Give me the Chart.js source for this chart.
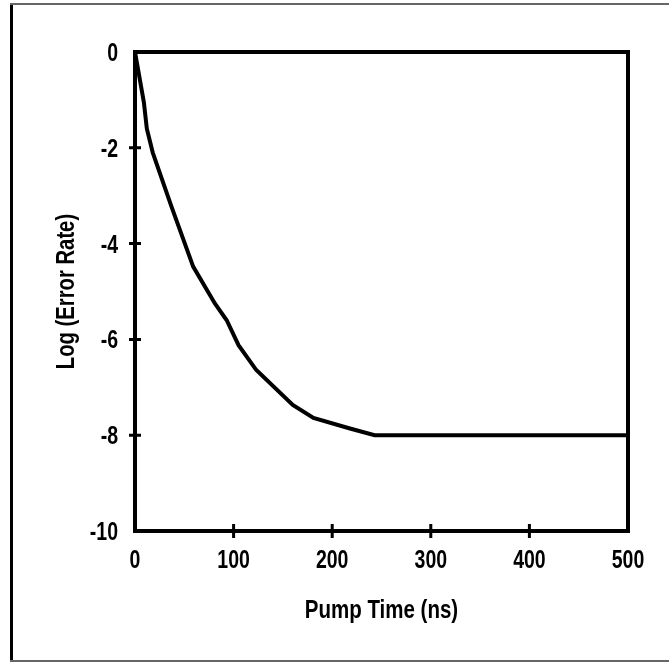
<!DOCTYPE html>
<html>
<head>
<meta charset="utf-8">
<script src="https://cdn.jsdelivr.net/npm/chart.js@4"></script>
<style>
  html, body { margin: 0; padding: 0; background: #fff; }
  #wrap { width: 669px; height: 662px; position: relative; }
</style>
</head>
<body>
<div id="wrap"><canvas id="chart" width="669" height="662"></canvas></div>
<script>
// data
const pumpTime = [0, 9, 12, 18, 37, 59, 81, 93, 105, 123, 160, 181, 218, 243, 500];
const logError = [0, -1.05, -1.6, -2.1, -3.23, -4.48, -5.25, -5.6, -6.12, -6.64, -7.37, -7.64, -7.86, -8.0, -8.0];
const xTicks = [0, 100, 200, 300, 400, 500];
const yTicks = [0, -2, -4, -6, -8, -10];
const xTitle = 'Pump Time (ns)';
const yTitle = 'Log (Error Rate)';

const FONT = "bold 25px 'Liberation Sans', Arial, sans-serif";

// condensed bold text like the original figure
function narrowText(c, txt, x, y, sx, rot) {
    c.save();
    c.translate(x, y);
    if (rot) c.rotate(rot);
    c.scale(sx, 1);
    c.fillText(txt, 0, 0);
    c.restore();
}

// box, cross ticks, labels and page frame
const framePlugin = {
    id: 'frame',
    beforeDraw(chart) {
        const c = chart.ctx;
        c.save();
        c.fillStyle = '#fff';
        c.fillRect(0, 0, chart.width, chart.height);
        c.fillStyle = '#000';
        c.fillRect(10, 3, 3, 659);
        c.fillStyle = '#666';
        c.fillRect(10, 3, 659, 2);
        c.fillRect(10, 660, 659, 2);
        c.restore();
    },
    afterDatasetsDraw(chart) {
        const c = chart.ctx;
        const a = chart.chartArea;
        const xs = chart.scales.x, ys = chart.scales.y;
        c.save();
        c.strokeStyle = '#000';
        c.lineWidth = 4;
        c.strokeRect(a.left, a.top, a.right - a.left, a.bottom - a.top);
        c.lineWidth = 3;
        c.beginPath();
        xTicks.slice(1, -1).forEach(v => {
            const px = xs.getPixelForValue(v);
            c.moveTo(px, a.bottom - 7);
            c.lineTo(px, a.bottom + 7);
        });
        yTicks.slice(1, -1).forEach(v => {
            const py = ys.getPixelForValue(v);
            c.moveTo(a.left - 6, py);
            c.lineTo(a.left + 6, py);
        });
        c.stroke();

        c.fillStyle = '#000';
        c.font = FONT;
        c.textBaseline = 'alphabetic';
        c.textAlign = 'center';
        xTicks.forEach(v => narrowText(c, String(v), xs.getPixelForValue(v), a.bottom + 37, 0.78));
        c.textAlign = 'right';
        yTicks.forEach(v => narrowText(c, String(v), a.left - 17, ys.getPixelForValue(v) + 9, 0.78));
        c.textAlign = 'center';
        narrowText(c, xTitle, (a.left + a.right) / 2, 618, 0.82);
        narrowText(c, yTitle, 74, (a.top + a.bottom) / 2, 0.81, -Math.PI / 2);
        c.restore();
    }
};

new Chart(document.getElementById('chart'), {
    type: 'line',
    data: {
        datasets: [{
            data: pumpTime.map((x, i) => ({ x: x, y: logError[i] })),
            borderColor: '#000',
            borderWidth: 4,
            pointRadius: 0,
            tension: 0,
            fill: false
        }]
    },
    options: {
        responsive: false,
        animation: false,
        layout: { padding: { left: 20, top: 52, right: 41, bottom: 20 } },
        plugins: { legend: { display: false }, tooltip: { enabled: false } },
        scales: {
            x: {
                type: 'linear',
                min: 0, max: 500,
                afterBuildTicks: s => { s.ticks = xTicks.map(v => ({ value: v })); },
                afterFit: s => { s.height = 111; },
                grid: { display: false, drawTicks: false },
                border: { display: false },
                ticks: { display: false },
                title: { display: false, text: xTitle }
            },
            y: {
                type: 'linear',
                min: -10, max: 0,
                afterBuildTicks: s => { s.ticks = yTicks.map(v => ({ value: v })); },
                afterFit: s => { s.width = 115; },
                grid: { display: false, drawTicks: false },
                border: { display: false },
                ticks: { display: false },
                title: { display: false, text: yTitle }
            }
        }
    },
    plugins: [framePlugin]
});
</script>
</body>
</html>
